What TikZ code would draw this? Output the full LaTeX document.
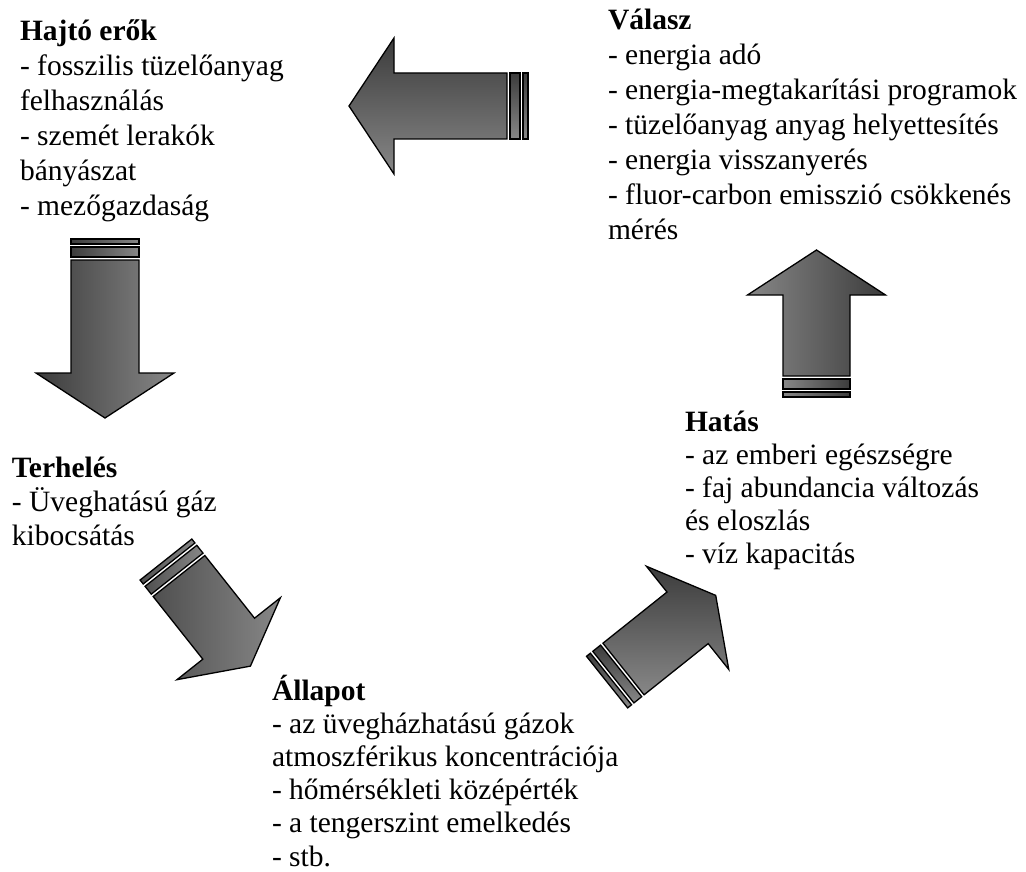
\documentclass[tikz,border=0pt]{standalone}
\usepackage{fontspec}
\setmainfont{Liberation Serif}
\definecolor{arrdark}{HTML}{3C3C3C}
\definecolor{arrlight}{HTML}{878787}
% block arrow: start point (stripe end), angle, body length, body half width,
% head length, head half width, shading options
\newcommand\blockarrow[7]{%
  \begin{scope}[shift={#1},rotate=#2]
    \path[arrline,#7] (0,-#4) -- (#3,-#4) -- (#3,-#6) -- ({#3+#5},0)
      -- (#3,#6) -- (#3,#4) -- (0,#4) -- cycle;
    \path[arrline,#7] (-3,-#4) rectangle (-13,#4);
    \path[arrline,#7] (-16,-#4) rectangle (-21,#4);
  \end{scope}}
% left-aligned lines with a given line pitch; the box baseline is the first line's
\newcommand\textlines[2]{\vtop{\baselineskip=#1\lineskiplimit=-100pt\lineskip=0pt
  \halign{##\hfil\cr#2\crcr}}}
\begin{document}
\begin{tikzpicture}[x=1pt,y=-1pt,
  block/.style={anchor=base west,inner sep=0pt,outer sep=0pt,
    font=\fontsize{29.5}{34}\selectfont},
  arrline/.style={draw=black,line width=1.3pt,line join=miter}]
\useasboundingbox (0,0) rectangle (1026,872);

% cycle of block arrows
\blockarrow{(507,106)}{180}{113}{33}{45}{68}{top color=arrdark,bottom color=arrlight}
\blockarrow{(105,260)}{-90}{113}{34}{45}{69}{left color=arrdark,right color=arrlight}
\blockarrow{(179,576)}{-51.6}{80}{33}{35}{66}{left color=arrdark!90,right color=arrlight}
\blockarrow{(623.5,669)}{38.6}{82}{33}{36}{66}{top color=arrdark,bottom color=arrlight}
\blockarrow{(816.5,376)}{90}{81}{33.5}{45}{69}{left color=arrlight,right color=arrdark}

% text blocks
\node[block] (hajto) at (20,41) {\textlines{35pt}{\textbf{Hajtó erők}\cr - fosszilis tüzelőanyag\cr felhasználás\cr - szemét lerakók\cr bányászat\cr - mezőgazdaság}};
\node[block] (valasz) at (608,30) {\textlines{35pt}{\textbf{Válasz}\cr - energia adó\cr - energia-megtakarítási programok\cr - tüzelőanyag anyag helyettesítés\cr - energia visszanyerés\cr - fluor-carbon emisszió csökkenés\cr mérés}};
\node[block] (terheles) at (12,477) {\textlines{34pt}{\textbf{Terhelés}\cr - Üveghatású gáz\cr kibocsátás}};
\node[block] (hatas) at (685,431) {\textlines{33pt}{\textbf{Hatás}\cr - az emberi egészségre\cr - faj abundancia változás\cr és eloszlás\cr - víz kapacitás}};
\node[block] (allapot) at (272,700) {\textlines{33.2pt}{\textbf{Állapot}\cr - az üvegházhatású gázok\cr atmoszférikus koncentrációja\cr - hőmérsékleti középérték\cr - a tengerszint emelkedés\cr - stb.}};
\end{tikzpicture}
\end{document}
